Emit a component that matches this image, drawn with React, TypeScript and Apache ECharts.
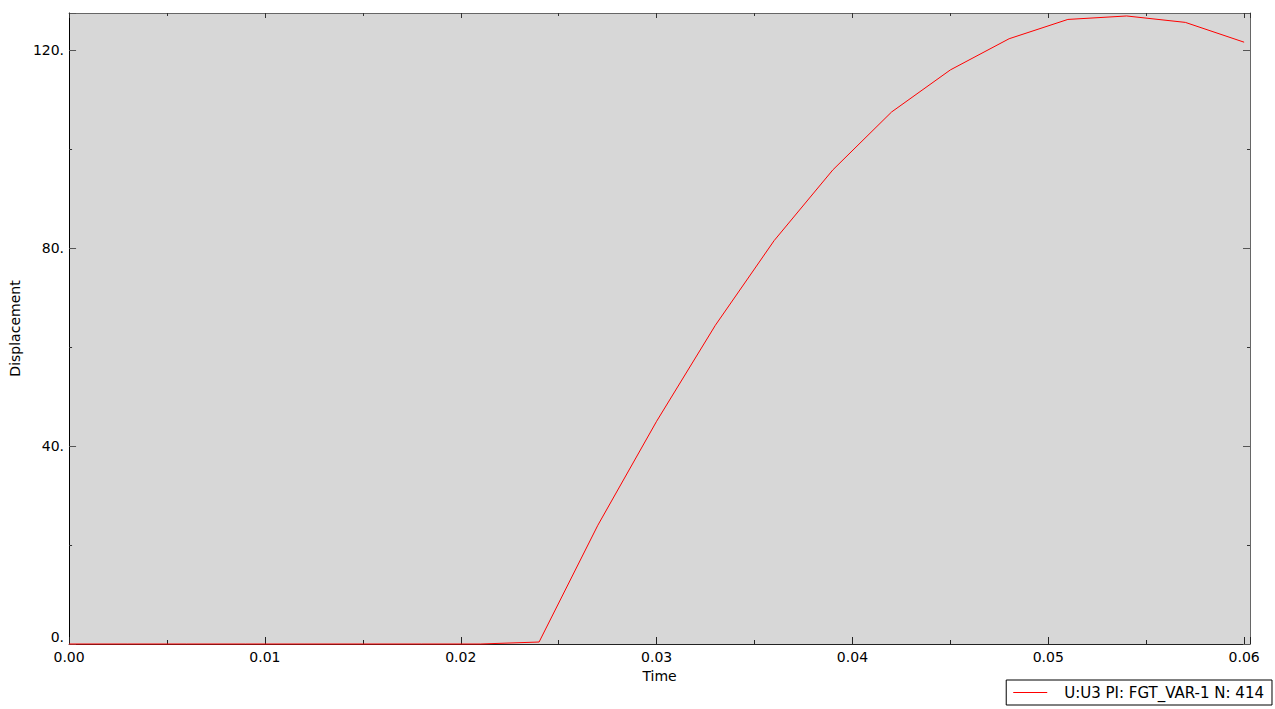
import { useEffect, useRef } from 'react';
import * as echarts from 'echarts';

// time (s) and U3 displacement sampled from the plot
const timeValues = [
    0, 0.003, 0.006, 0.009, 0.012, 0.015, 0.018, 0.021, 0.024, 0.027, 0.03,
    0.033, 0.036, 0.039, 0.042, 0.045, 0.048, 0.051, 0.054, 0.057, 0.06,
];
const displacement = [
    0, 0, 0, 0, 0, 0, 0, 0, 0.4, 24.0, 45.0,
    64.4, 81.5, 95.8, 107.5, 116.0, 122.3, 126.2, 126.9, 125.6, 121.6,
];
const seriesName = 'U:U3 PI: FGT_VAR-1 N: 414';
const xTicks = [0, 0.01, 0.02, 0.03, 0.04, 0.05, 0.06];
const yTicks = [0, 40, 80, 120];

const FONT = 'DejaVu Sans';
const X_MAX = 0.0603;
const Y_MAX = 127.5;

export default function App() {
    const chartRef = useRef<HTMLDivElement>(null);

    useEffect(() => {
        if (!chartRef.current) return;
        const chart = echarts.init(chartRef.current, undefined, { renderer: 'svg' });

        const isTick = (list: number[], v: number) => list.some(t => Math.abs(t - v) < 1e-9);

        const option: echarts.EChartsOption = {
            animation: false,
            backgroundColor: '#ffffff',
            textStyle: { fontFamily: FONT },
            grid: {
                left: 68,
                right: 25,
                top: 13,
                bottom: 65,
                show: true,
                backgroundColor: '#d7d7d7',
                borderWidth: 0,
            },
            legend: {
                right: 3,
                top: 680,
                data: [{ name: seriesName, icon: 'rect' }],
                backgroundColor: '#ffffff',
                borderColor: '#000000',
                borderWidth: 1,
                borderRadius: 0,
                padding: [5, 8, 5, 7],
                itemWidth: 34,
                itemHeight: 1,
                textStyle: { fontFamily: FONT, fontSize: 15, color: '#000', padding: [0, 0, 0, 12] },
            },
            xAxis: [
                {
                    type: 'value',
                    min: 0,
                    max: X_MAX,
                    interval: 0.01,
                    name: 'Time',
                    nameLocation: 'middle',
                    nameGap: 20,
                    nameTextStyle: { fontFamily: FONT, fontSize: 14, color: '#000' },
                    axisLine: { onZero: false, lineStyle: { color: '#222', width: 1 } },
                    axisTick: { inside: true, length: 7, lineStyle: { color: '#222' } },
                    minorTick: { show: true, splitNumber: 2, length: 4, lineStyle: { color: '#222' } },
                    splitLine: { show: false },
                    axisLabel: {
                        fontFamily: FONT,
                        fontSize: 14,
                        color: '#000',
                        margin: 6,
                        formatter: (v: number) => (isTick(xTicks, v) ? v.toFixed(2) : ''),
                    },
                },
                {
                    type: 'value',
                    position: 'top',
                    min: 0,
                    max: X_MAX,
                    interval: 0.01,
                    axisLine: { onZero: false, lineStyle: { color: '#666', width: 1 } },
                    axisTick: { inside: true, length: 5, lineStyle: { color: '#333' } },
                    minorTick: { show: true, splitNumber: 2, length: 3, lineStyle: { color: '#333' } },
                    splitLine: { show: false },
                    axisLabel: { show: false },
                },
            ],
            yAxis: [
                {
                    type: 'value',
                    min: 0,
                    max: Y_MAX,
                    interval: 40,
                    name: 'Displacement',
                    nameLocation: 'middle',
                    nameGap: 44,
                    nameTextStyle: { fontFamily: FONT, fontSize: 14, color: '#000' },
                    axisLine: { show: true, onZero: false, lineStyle: { color: '#000', width: 1 } },
                    axisTick: { show: true, inside: true, length: 7, lineStyle: { color: '#555' } },
                    minorTick: { show: true, splitNumber: 2, length: 3, lineStyle: { color: '#333' } },
                    splitLine: { show: false },
                    axisLabel: {
                        fontFamily: FONT,
                        fontSize: 14,
                        color: '#000',
                        margin: 5,
                        verticalAlignMinLabel: 'bottom',
                        formatter: (v: number) => (isTick(yTicks, v) ? `${v}.` : ''),
                    },
                },
                {
                    type: 'value',
                    position: 'right',
                    min: 0,
                    max: Y_MAX,
                    interval: 40,
                    axisLine: { show: true, onZero: false, lineStyle: { color: '#666', width: 1 } },
                    axisTick: { show: true, inside: true, length: 7, lineStyle: { color: '#555' } },
                    minorTick: { show: true, splitNumber: 2, length: 3, lineStyle: { color: '#333' } },
                    splitLine: { show: false },
                    axisLabel: { show: false },
                },
            ],
            series: [
                {
                    name: seriesName,
                    type: 'line',
                    xAxisIndex: 0,
                    yAxisIndex: 0,
                    symbol: 'none',
                    clip: false,
                    z: 10,
                    lineStyle: { color: '#ff0000', width: 1 },
                    itemStyle: { color: '#ff0000' },
                    data: timeValues.map((t, i) => [t, displacement[i]]),
                },
            ],
        };

        chart.setOption(option);
        return () => chart.dispose();
    }, []);

    return (
        <div
            ref={chartRef}
            style={{ position: 'fixed', left: 0, top: 0, width: '1275px', height: '709px' }}
        />
    );
}
